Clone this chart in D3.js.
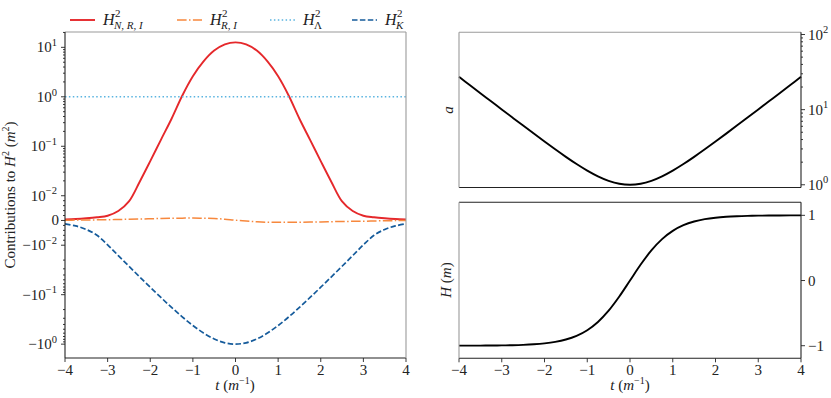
<!DOCTYPE html>
<html><head><meta charset="utf-8">
<script src="https://cdn.jsdelivr.net/npm/d3@7"></script>
<style>
body { margin: 0; background: #fff; }
</style></head>
<body><div id="chart"></div>
<script>
// time grid shared by all curves
const tGrid = [-4, -3.75, -3.5, -3.25, -3, -2.75, -2.5, -2.25, -2, -1.75, -1.5, -1.25, -1, -0.75, -0.5, -0.25, 0,
    0.25, 0.5, 0.75, 1, 1.25, 1.5, 1.75, 2, 2.25, 2.5, 2.75, 3, 3.25, 3.5, 3.75, 4];

// left panel: contributions to H^2
const h2NRI = [0.0004, 0.0006, 0.0009, 0.0013, 0.0019, 0.0038, 0.0077, 0.019, 0.05, 0.135, 0.36, 1.05, 2.6, 5.2, 8.6, 11.5, 12.6,
    11.5, 8.6, 5.2, 2.6, 1.05, 0.36, 0.135, 0.05, 0.019, 0.0077, 0.0038, 0.0019, 0.0013, 0.0009, 0.0006, 0.0004];
const h2RI = [0.0001, 0.00015, 0.0002, 0.00025, 0.0003, 0.0004, 0.0005, 0.0006, 0.0007, 0.0008, 0.0009, 0.00095, 0.001, 0.0009, 0.0008, 0.0005, 0.0001,
    -0.0002, -0.0005, -0.0007, -0.00075, -0.00075, -0.0007, -0.00065, -0.0006, -0.0005, -0.0004, -0.00035, -0.0003, -0.0002, -0.0001, -0.00005, 0];
const lambdaT = [-4, 4];
const h2Lambda = [1, 1];
const h2K = [-0.00134, -0.00221, -0.00364, -0.006, -0.00987, -0.0162, -0.0266, -0.0435, -0.0707, -0.1138, -0.1807, -0.2804, -0.42, -0.5966, -0.7864, -0.94, -1,
    -0.94, -0.7864, -0.5966, -0.42, -0.2804, -0.1807, -0.1138, -0.0707, -0.0435, -0.0266, -0.0162, -0.00987, -0.006, -0.00364, -0.00221, -0.00134];

// right panels: scale factor and Hubble rate
const aVals = [27.31, 21.27, 16.57, 12.92, 10.07, 7.853, 6.132, 4.797, 3.762, 2.964, 2.352, 1.888, 1.543, 1.295, 1.128, 1.031, 1,
    1.031, 1.128, 1.295, 1.543, 1.888, 2.352, 2.964, 3.762, 4.797, 6.132, 7.853, 10.07, 12.92, 16.57, 21.27, 27.31];
const hVals = [-0.9993, -0.9989, -0.9982, -0.997, -0.9951, -0.9919, -0.9866, -0.978, -0.964, -0.9414, -0.9051, -0.8483, -0.7616, -0.6351, -0.4621, -0.2449, 0,
    0.2449, 0.4621, 0.6351, 0.7616, 0.8483, 0.9051, 0.9414, 0.964, 0.978, 0.9866, 0.9919, 0.9951, 0.997, 0.9982, 0.9989, 0.9993];

const xTicks = [-4, -3, -2, -1, 0, 1, 2, 3, 4];
const symTicks = [10, 1, 0.1, 0.01, 0, -0.01, -0.1, -1];
const symTickLabels = [["10", "1"], ["10", "0"], ["10", "−1"], ["10", "−2"], ["0", ""], ["−10", "−2"], ["−10", "−1"], ["−10", "0"]];
const aTicks = [1, 10, 100];
const aTickLabels = [["10", "0"], ["10", "1"], ["10", "2"]];
const hTicks = [-1, 0, 1];

const legendItems = [
    {name: "NRI", sub: "N, R, I", color: "#e5282b", dash: null, x: 70},
    {name: "RI", sub: "R, I", color: "#f7883d", dash: "9.6,2.4,1.5,2.4", x: 177},
    {name: "L", sub: "Λ", color: "#5ab4e0", dash: "1.5,2.4", x: 270},
    {name: "K", sub: "K", color: "#155b9b", dash: "5.5,2.4", x: 352}
];

const LINTHRESH = 0.01;
const LINSCALE = 0.5;
function symlog(v) {
    const a = Math.abs(v);
    if (a <= LINTHRESH) return v / LINTHRESH * LINSCALE;
    return Math.sign(v) * (LINSCALE + Math.log10(a / LINTHRESH));
}

const svg = d3.select('#chart').append('svg')
    .attr('width', 831)
    .attr('height', 398)
    .attr('font-family', "'Liberation Serif', 'DejaVu Serif', serif")
    .attr('fill', '#222');

function supText(g, x, y, base, sup, anchor, size) {
    const t = g.append('text')
        .attr('x', x).attr('y', y)
        .attr('text-anchor', anchor)
        .style('font-size', size + 'px');
    t.append('tspan').text(base);
    if (sup) t.append('tspan').attr('dy', -size * 0.42).style('font-size', (size * 0.7) + 'px').text(sup);
    return t;
}

function frame(x0, x1, y0, y1, dark) {
    const gray = '#9a9a9a', black = '#222';
    const sides = [
        ['top', x0, y0, x1, y0], ['bottom', x0, y1, x1, y1],
        ['left', x0, y0, x0, y1], ['right', x1, y0, x1, y1]
    ];
    sides.forEach(s => {
        svg.append('line')
            .attr('x1', s[1]).attr('y1', s[2]).attr('x2', s[3]).attr('y2', s[4])
            .attr('stroke', dark.includes(s[0]) ? black : gray)
            .attr('stroke-width', 1.1);
    });
}

function tick(x1, y1, x2, y2) {
    svg.append('line')
        .attr('x1', x1).attr('y1', y1).attr('x2', x2).attr('y2', y2)
        .attr('stroke', '#222').attr('stroke-width', 0.9);
}

function xAxisLabel(cx) {
    const t = svg.append('text').attr('x', cx).attr('y', 390).attr('text-anchor', 'middle').style('font-size', '15px');
    t.append('tspan').style('font-style', 'italic').text('t');
    t.append('tspan').text(' (');
    t.append('tspan').style('font-style', 'italic').text('m');
    t.append('tspan').attr('dy', -6).style('font-size', '10px').text('−1');
    t.append('tspan').attr('dy', 6).text(')');
}

// ---------------- left panel ----------------
const xL = d3.scaleLinear().domain([-4, 4]).range([65, 406]);
const yL = d3.scaleLinear().domain([-2.78, 3.81]).range([358, 32]);

const lineL = (xs, ys) => d3.line()
    .x(i => xL(xs[i]))
    .y(i => yL(symlog(ys[i])))
    .curve(d3.curveCatmullRom)(d3.range(xs.length));

const seriesL = [
    [tGrid, h2NRI, legendItems[0], 1.9],
    [tGrid, h2RI, legendItems[1], 1.5],
    [lambdaT, h2Lambda, legendItems[2], 1.5],
    [tGrid, h2K, legendItems[3], 1.7]
];

// minor ticks on the symlog axis
const minorSym = [];
[0.01, 0.1, 1, 10].forEach(dec => {
    for (let k = 2; k <= 9; k++) { minorSym.push(k * dec); minorSym.push(-k * dec); }
});
[0.002, 0.004, 0.006, 0.008].forEach(v => { minorSym.push(v); minorSym.push(-v); });
minorSym.filter(v => symlog(v) > -2.78 && symlog(v) < 3.81 && ![0.1, 1, 10, -0.1, -1, -10].includes(v))
    .forEach(v => tick(65, yL(symlog(v)), 63, yL(symlog(v))));

symTicks.forEach((v, i) => {
    const y = yL(symlog(v));
    tick(65, y, 61, y);
    supText(svg, symTickLabels[i][1] ? 57 : 59, y + 5, symTickLabels[i][0], symTickLabels[i][1], 'end', 15);
});

xTicks.forEach(v => {
    tick(xL(v), 358, xL(v), 362);
    svg.append('text').attr('x', xL(v)).attr('y', 375).attr('text-anchor', 'middle')
        .style('font-size', '15px').text(v < 0 ? '−' + Math.abs(v) : v);
});

seriesL.forEach(s => {
    svg.append('path')
        .attr('d', lineL(s[0], s[1]))
        .attr('fill', 'none')
        .attr('stroke', s[2].color)
        .attr('stroke-width', s[3])
        .attr('stroke-dasharray', s[2].dash);
});

frame(65, 406, 32, 358, ['left', 'bottom']);
xAxisLabel(235);

const yLab = svg.append('text')
    .attr('transform', 'translate(15,195) rotate(-90)')
    .attr('text-anchor', 'middle')
    .style('font-size', '15px');
yLab.append('tspan').text('Contributions to ');
yLab.append('tspan').style('font-style', 'italic').text('H');
yLab.append('tspan').attr('dy', -6).style('font-size', '10px').text('2');
yLab.append('tspan').attr('dy', 6).text(' (');
yLab.append('tspan').style('font-style', 'italic').text('m');
yLab.append('tspan').attr('dy', -6).style('font-size', '10px').text('2');
yLab.append('tspan').attr('dy', 6).text(')');

// legend
legendItems.forEach(d => {
    svg.append('line')
        .attr('x1', d.x).attr('x2', d.x + 25)
        .attr('y1', 20).attr('y2', 20)
        .attr('stroke', d.color)
        .attr('stroke-width', d.name === 'NRI' ? 1.9 : 1.6)
        .attr('stroke-dasharray', d.dash);
    const lx = d.x + 33;
    svg.append('text').attr('x', lx).attr('y', 25).style('font-size', '16px')
        .style('font-style', 'italic').text('H');
    svg.append('text').attr('x', lx + 12).attr('y', 17).style('font-size', '11px').text('2');
    svg.append('text').attr('x', lx + 11).attr('y', 29).style('font-size', '11px')
        .style('font-style', d.sub === 'Λ' ? 'normal' : 'italic').text(d.sub);
});

// ---------------- right top panel: a ----------------
const xR = d3.scaleLinear().domain([-4, 4]).range([459, 801]);
const yA = d3.scaleLog().domain([0.92, 107]).range([187.5, 32.3]);

[1, 10].forEach(dec => {
    for (let k = 2; k <= 9; k++) tick(801, yA(k * dec), 803, yA(k * dec));
});
aTicks.forEach((v, i) => {
    tick(801, yA(v), 805, yA(v));
    supText(svg, 808, yA(v) + 5, aTickLabels[i][0], aTickLabels[i][1], 'start', 15);
});

svg.append('path')
    .attr('d', d3.line()
        .x(i => xR(tGrid[i]))
        .y(i => yA(aVals[i]))
        .curve(d3.curveCatmullRom)(d3.range(tGrid.length)))
    .attr('fill', 'none')
    .attr('stroke', '#000')
    .attr('stroke-width', 1.9);

frame(459, 801, 32.3, 187.5, ['right', 'bottom']);

svg.append('text')
    .attr('transform', 'translate(453,110) rotate(-90)')
    .attr('text-anchor', 'middle')
    .style('font-size', '15px')
    .style('font-style', 'italic')
    .text('a');

// ---------------- right bottom panel: H ----------------
const yH = d3.scaleLinear().domain([-1.193, 1.2]).range([358.3, 202.3]);

hTicks.forEach(v => {
    tick(801, yH(v), 805, yH(v));
    svg.append('text').attr('x', 808).attr('y', yH(v) + 5)
        .style('font-size', '15px').text(v < 0 ? '−' + Math.abs(v) : v);
});
xTicks.forEach(v => {
    tick(xR(v), 358.3, xR(v), 362.3);
    svg.append('text').attr('x', xR(v)).attr('y', 375).attr('text-anchor', 'middle')
        .style('font-size', '15px').text(v < 0 ? '−' + Math.abs(v) : v);
});

svg.append('path')
    .attr('d', d3.line()
        .x(i => xR(tGrid[i]))
        .y(i => yH(hVals[i]))
        .curve(d3.curveCatmullRom)(d3.range(tGrid.length)))
    .attr('fill', 'none')
    .attr('stroke', '#000')
    .attr('stroke-width', 1.9);

frame(459, 801, 202.3, 358.3, ['top', 'right', 'bottom']);
xAxisLabel(630);

const hLab = svg.append('text')
    .attr('transform', 'translate(451,280) rotate(-90)')
    .attr('text-anchor', 'middle')
    .style('font-size', '15px');
hLab.append('tspan').style('font-style', 'italic').text('H');
hLab.append('tspan').text(' (');
hLab.append('tspan').style('font-style', 'italic').text('m');
hLab.append('tspan').text(')');
</script>
</body></html>
